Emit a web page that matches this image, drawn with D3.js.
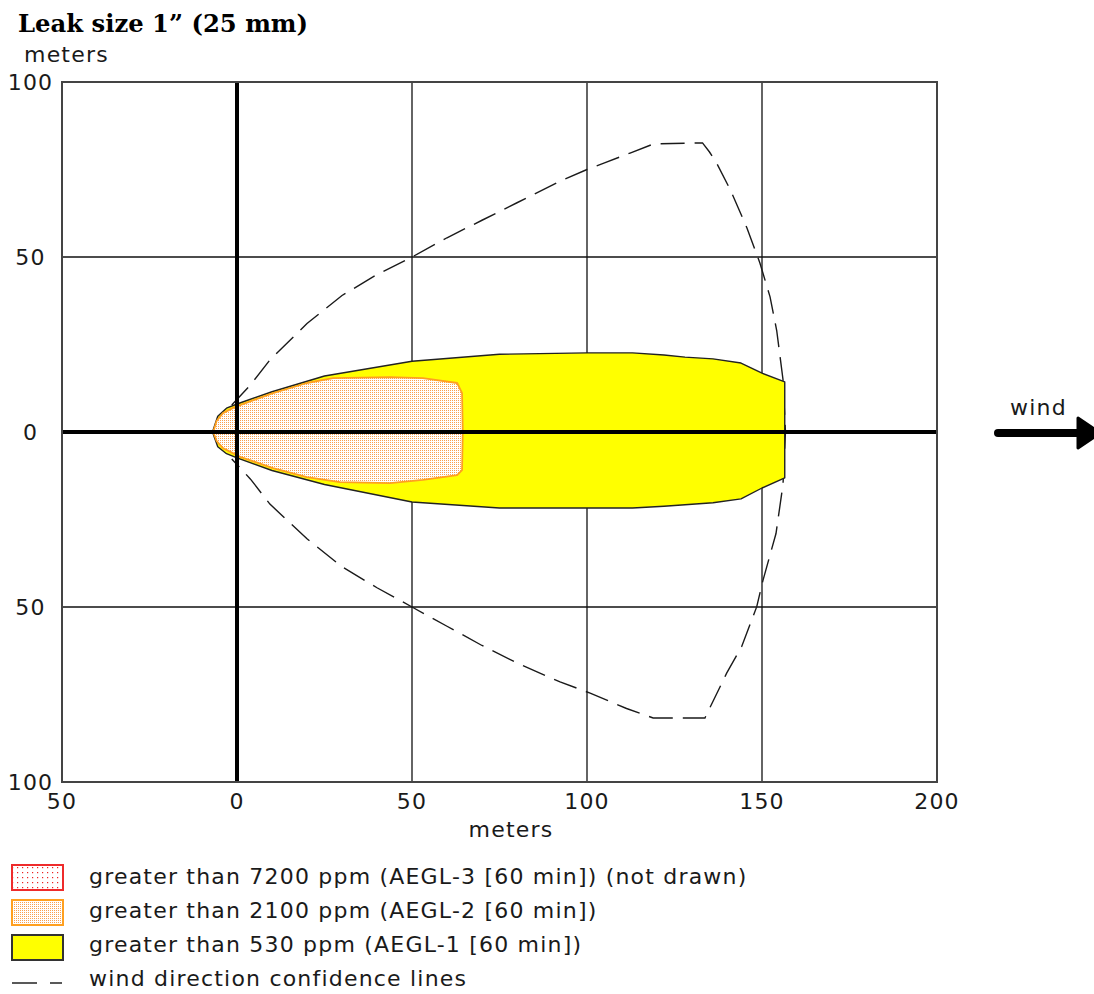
<!DOCTYPE html>
<html>
<head>
<meta charset="utf-8">
<script src="https://cdn.jsdelivr.net/npm/d3@7"></script>
<style>
  html, body { margin: 0; padding: 0; background: #fff; }
  svg { display: block; }
  text { font-family: "DejaVu Sans", Verdana, sans-serif; fill: #1a1a1a; }
</style>
</head>
<body>
<svg id="chart" width="1094" height="994"></svg>
<script>
// Threat zone footprint (meters downwind x, meters crosswind y)
const xTicks = [-50, 0, 50, 100, 150, 200];
const yTicks = [-100, -50, 0, 50, 100];

// AEGL-1 zone (> 530 ppm)
const aegl1Zone = [
  [-7, 0], [-5.5, 4.5], [-3, 6.8], [0, 8], [10, 11.5], [25, 16], [50, 20.2],
  [75, 22.2], [100, 22.6], [113, 22.6], [122, 22], [128, 21.4], [136, 20.9],
  [144, 19.7], [150, 16.8], [156.5, 14.3],
  [156.5, -13.1], [150, -16], [144, -19.1], [136, -20.2], [122, -21.2],
  [113, -21.7], [100, -21.7], [75, -21.7], [50, -20], [25, -15], [10, -11],
  [0, -7.4], [-3, -6.2], [-5.5, -4.2]
];

// AEGL-2 zone (> 2100 ppm)
const aegl2Zone = [
  [-6.8, 0], [-5.8, 3.2], [-4, 5.4], [-1.1, 6.9], [0.9, 7.7], [10.3, 11.1], [20, 14],
  [27.4, 15.4], [43.7, 15.7], [53.1, 15.4], [62.9, 14], [64.3, 11.1], [64.5, 0],
  [64.3, -10.9], [62.9, -12.3], [53.1, -13.7], [43.7, -14.6], [29.4, -14.3],
  [20, -12.9], [10.3, -10.3], [0.9, -7.1], [-4, -4.6], [-5.8, -2.6]
];

// Wind direction confidence lines
const confidenceUpper = [
  [-1.5, 7.7], [3.8, 13.4], [9.4, 20.6], [20, 31], [30, 39], [40, 45], [50, 50],
  [60, 55.5], [70, 60.5], [80, 65.5], [92, 71.5], [100, 75], [105, 76.9],
  [112.3, 79.7], [119, 82.3], [133, 82.6], [135, 80], [137, 76.9], [141, 69.1],
  [145.7, 58.3], [149.4, 48.3], [152.3, 38.6], [154.2, 29], [156, 15], [156.7, 0]
];
const confidenceLower = [
  [156.7, 0], [156, -15], [154, -29], [150.3, -42.3], [148.5, -49.9], [144.2, -61.3],
  [139.9, -68.9], [133.7, -81.7], [118.9, -81.7], [111.3, -79], [100.9, -74.6],
  [92.3, -71.4], [80, -66], [70, -61], [60, -55.5], [50, -50], [40, -44.5],
  [30, -38.5], [20, -30.5], [9.4, -20.6], [3.8, -13.4], [-1.5, -7.7]
];

const legendLabels = [
  "greater than 7200 ppm (AEGL-3 [60 min]) (not drawn)",
  "greater than 2100 ppm (AEGL-2 [60 min])",
  "greater than 530 ppm (AEGL-1 [60 min])",
  "wind direction confidence lines"
];

const svg = d3.select("#chart");
const plot = { left: 62, right: 937, top: 82, bottom: 782 };

const x = d3.scaleLinear().domain([-50, 200]).range([plot.left, plot.right]);
const y = d3.scaleLinear().domain([-100, 100]).range([plot.bottom, plot.top]);

const labelStyle = sel => sel.style("font-size", "22px").style("letter-spacing", "1.2px");

// Fill patterns
const defs = svg.append("defs");
const orangeDots = defs.append("pattern")
  .attr("id", "orangeDots").attr("patternUnits", "userSpaceOnUse")
  .attr("width", 2).attr("height", 2);
orangeDots.append("rect").attr("width", 2).attr("height", 2).attr("fill", "#ffffff");
orangeDots.append("rect").attr("width", 1).attr("height", 1).attr("fill", "#f9a050");

const redDots = defs.append("pattern")
  .attr("id", "redDots").attr("patternUnits", "userSpaceOnUse")
  .attr("width", 5).attr("height", 5);
redDots.append("rect").attr("width", 5).attr("height", 5).attr("fill", "#fff");
redDots.append("rect").attr("x", 2).attr("y", 2).attr("width", 1.2).attr("height", 1.2).attr("fill", "#ee2222");

// Title
svg.append("text")
  .attr("x", 18).attr("y", 32)
  .style("font-family", "'DejaVu Serif', 'Liberation Serif', serif")
  .style("font-weight", "bold").style("font-size", "25px").style("fill", "#000")
  .attr("textLength", 290).attr("lengthAdjust", "spacingAndGlyphs")
  .text("Leak size 1\u201D (25 mm)");

svg.append("text").attr("x", 24).attr("y", 62).call(labelStyle).text("meters");

// Grid
const grid = svg.append("g");
grid.selectAll(".gx").data(xTicks).join("line")
  .attr("x1", d => x(d)).attr("x2", d => x(d))
  .attr("y1", plot.top).attr("y2", plot.bottom)
  .attr("stroke", "#111").attr("stroke-width", 1.3);
grid.selectAll(".gy").data(yTicks).join("line")
  .attr("y1", d => y(d)).attr("y2", d => y(d))
  .attr("x1", plot.left).attr("x2", plot.right)
  .attr("stroke", "#111").attr("stroke-width", 1.3);

// Confidence lines (beneath the zones)
const line = d3.line().x(d => x(d[0])).y(d => y(d[1]));
svg.append("path").datum(confidenceUpper.concat(confidenceLower.slice(1)))
  .attr("d", line).attr("fill", "none")
  .attr("stroke", "#1a1a1a").attr("stroke-width", 1.4)
  .attr("stroke-dasharray", "24,10");

// Zones
const area = d3.line().x(d => x(d[0])).y(d => y(d[1])).curve(d3.curveLinearClosed);
svg.append("path").datum(aegl1Zone).attr("d", area)
  .attr("fill", "#ffff00").attr("stroke", "#222").attr("stroke-width", 1.4)
  .attr("stroke-linejoin", "round");
svg.append("path").datum(aegl2Zone).attr("d", area)
  .attr("fill", "url(#orangeDots)").attr("stroke", "#ffa020").attr("stroke-width", 1.8)
  .attr("stroke-linejoin", "round");

// Thick axes through the source
svg.append("line")
  .attr("x1", x(0)).attr("x2", x(0)).attr("y1", plot.top).attr("y2", plot.bottom)
  .attr("stroke", "#000").attr("stroke-width", 4);
svg.append("line")
  .attr("x1", plot.left).attr("x2", plot.right).attr("y1", y(0)).attr("y2", y(0))
  .attr("stroke", "#000").attr("stroke-width", 4);

// Frame
svg.append("rect")
  .attr("x", plot.left).attr("y", plot.top)
  .attr("width", plot.right - plot.left).attr("height", plot.bottom - plot.top)
  .attr("fill", "none").attr("stroke", "#444").attr("stroke-width", 2);

// Tick labels
svg.selectAll(".ylab").data(yTicks).join("text")
  .attr("x", 30.5).attr("y", d => y(d)).attr("dy", "0.36em")
  .attr("text-anchor", "middle").call(labelStyle)
  .text(d => Math.abs(d));
svg.selectAll(".xlab").data(xTicks).join("text")
  .attr("x", d => x(d)).attr("y", 809)
  .attr("text-anchor", "middle").call(labelStyle)
  .text(d => Math.abs(d));
svg.append("text").attr("x", 511).attr("y", 837)
  .attr("text-anchor", "middle").call(labelStyle).text("meters");

// Wind arrow
svg.append("text").attr("x", 1010).attr("y", 415).call(labelStyle).text("wind");
svg.append("line").attr("x1", 998).attr("x2", 1082).attr("y1", 433).attr("y2", 433)
  .attr("stroke", "#000").attr("stroke-width", 8).attr("stroke-linecap", "round");
svg.append("path").attr("d", "M1078,418 L1100,433 L1078,448 Z")
  .attr("fill", "#000").attr("stroke", "#000").attr("stroke-width", 3)
  .attr("stroke-linejoin", "round");

// Legend
const legend = svg.append("g");
const rowY = [865, 900, 935];
const swatches = [
  { fill: "url(#redDots)", stroke: "#ee2b2b" },
  { fill: "url(#orangeDots)", stroke: "#ffa020" },
  { fill: "#ffff00", stroke: "#333" }
];
legend.selectAll("rect").data(swatches).join("rect")
  .attr("x", 12).attr("y", (d, i) => rowY[i])
  .attr("width", 51).attr("height", 25)
  .attr("fill", d => d.fill).attr("stroke", d => d.stroke).attr("stroke-width", 2);
legend.append("line").attr("x1", 12).attr("x2", 37).attr("y1", 983).attr("y2", 983)
  .attr("stroke", "#222").attr("stroke-width", 1.5);
legend.append("line").attr("x1", 50).attr("x2", 62).attr("y1", 983).attr("y2", 983)
  .attr("stroke", "#222").attr("stroke-width", 1.5);
legend.selectAll("text").data(legendLabels).join("text")
  .attr("x", 89).attr("y", (d, i) => 884 + i * 34)
  .call(labelStyle).text(d => d);
</script>
</body>
</html>
